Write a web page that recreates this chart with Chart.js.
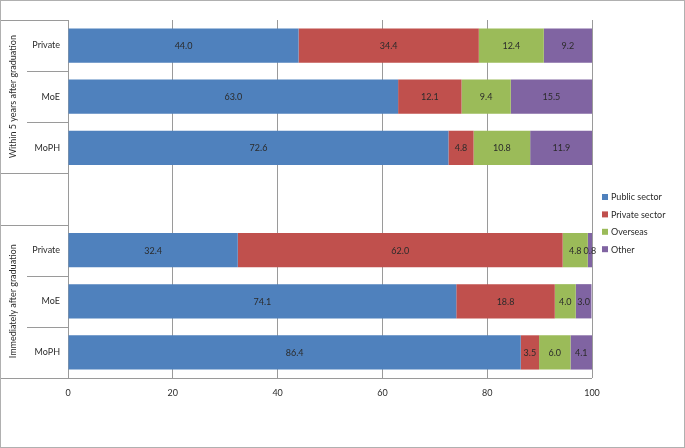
<!DOCTYPE html>
<html>
<head>
<meta charset="utf-8">
<script src="https://cdn.jsdelivr.net/npm/chart.js@4.4.1/dist/chart.umd.min.js"></script>
<style>
  html, body { margin: 0; padding: 0; background: #fff; }
  #wrap { width: 685px; height: 448px; position: relative; }
</style>
</head>
<body>
<div id="wrap"><canvas id="chart"></canvas></div>
<script>
// --- data -----------------------------------------------------------------
const rowLabels = ["Private", "MoE", "MoPH", "", "Private", "MoE", "MoPH"];
const groupLabels = ["Within 5 years after graduation", "Immediately after graduation"];
const groupRows = [[0, 2], [4, 6]];
const seriesNames = ["Public sector", "Private sector", "Overseas", "Other"];
const publicSector = [44.0, 63.0, 72.6, null, 32.4, 74.1, 86.4];
const privateSector = [34.4, 12.1, 4.8, null, 62.0, 18.8, 3.5];
const overseas = [12.4, 9.4, 10.8, null, 4.8, 4.0, 6.0];
const other = [9.2, 15.5, 11.9, null, 0.8, 3.0, 4.1];
const xTicks = [0, 20, 40, 60, 80, 100];

const COLORS = ["#4F81BD", "#C0504D", "#9BBB59", "#8064A2"];
const GRID = "#9a9a9a";
const INK = "#2b2b2b";
const FONT = "Lato, 'Open Sans', sans-serif";

Chart.defaults.font.family = FONT;
Chart.defaults.font.size = 9;
Chart.defaults.color = INK;

// --- plugins --------------------------------------------------------------
// value labels centred in each segment
const valueLabels = {
  id: "valueLabels",
  afterDatasetsDraw(chart) {
    const ctx = chart.ctx;
    ctx.save();
    ctx.font = `9px ${FONT}`;
    ctx.fillStyle = INK;
    ctx.textAlign = "center";
    ctx.textBaseline = "middle";
    chart.data.datasets.forEach((ds, di) => {
      chart.getDatasetMeta(di).data.forEach((bar, i) => {
        const v = ds.data[i];
        if (v == null) return;
        const p = bar.getProps(["x", "base", "y"], true);
        ctx.fillText(v.toFixed(1), (p.x + p.base) / 2, p.y + 0.5);
      });
    });
    ctx.restore();
  },
};

// multi-level category box, axis line, frame and legend
const decor = {
  id: "decor",
  beforeDraw(chart) {
    const ctx = chart.ctx;
    ctx.save();
    ctx.fillStyle = "#fff";
    ctx.fillRect(0, 0, chart.width, chart.height);
    ctx.restore();
  },
  afterDraw(chart) {
    const ctx = chart.ctx;
    const { top, bottom, left, right } = chart.chartArea;
    const band = (bottom - top) / rowLabels.length;
    const line = (x1, y1, x2, y2) => {
      ctx.beginPath();
      ctx.moveTo(x1, y1);
      ctx.lineTo(x2, y2);
      ctx.stroke();
    };
    ctx.save();
    ctx.strokeStyle = GRID;
    ctx.lineWidth = 1;

    // row boundaries in the category box
    const groupEdges = new Set();
    groupRows.forEach(([a, b]) => { groupEdges.add(a); groupEdges.add(b + 1); });
    for (let k = 0; k <= rowLabels.length; k++) {
      const y = Math.round(top + k * band) + 0.5;
      const x0 = groupEdges.has(k) ? 0 : 27;
      line(x0, y, left, y);
    }
    // x axis line from the left edge
    line(0, Math.round(bottom) + 0.5, right, Math.round(bottom) + 0.5);

    // group labels, rotated
    ctx.fillStyle = INK;
    ctx.font = `9px ${FONT}`;
    ctx.textAlign = "center";
    ctx.textBaseline = "middle";
    groupRows.forEach(([a, b], gi) => {
      const yc = top + ((a + b + 1) / 2) * band;
      ctx.save();
      ctx.translate(13, yc);
      ctx.rotate(-Math.PI / 2);
      ctx.fillText(groupLabels[gi], 0, 0);
      ctx.restore();
    });

    // legend
    const lx = 602, ly = 197, step = 17.4;
    ctx.textAlign = "left";
    seriesNames.forEach((name, i) => {
      const y = ly + i * step;
      ctx.fillStyle = COLORS[i];
      ctx.fillRect(lx, y - 3, 6, 6);
      ctx.fillStyle = INK;
      ctx.fillText(name, lx + 9, y + 0.5);
    });

    // outer frame
    ctx.strokeStyle = "#b0b0b0";
    ctx.strokeRect(0.5, 0.5, chart.width - 1, chart.height - 1);
    ctx.restore();
  },
};

// --- chart ----------------------------------------------------------------
const seriesData = [publicSector, privateSector, overseas, other];

new Chart(document.getElementById("chart"), {
  type: "bar",
  data: {
    labels: rowLabels,
    datasets: seriesNames.map((name, i) => ({
      label: name,
      data: seriesData[i],
      backgroundColor: COLORS[i],
      borderWidth: 0,
      categoryPercentage: 1,
      barPercentage: 0.67,
    })),
  },
  options: {
    indexAxis: "y",
    responsive: true,
    maintainAspectRatio: false,
    animation: false,
    devicePixelRatio: 1,
    layout: { padding: { top: 20, right: 93, left: 0, bottom: 0 } },
    plugins: { legend: { display: false }, tooltip: { enabled: false } },
    scales: {
      x: {
        stacked: true,
        min: 0,
        max: 100,
        afterBuildTicks: (s) => { s.ticks = xTicks.map((v) => ({ value: v })); },
        afterFit: (s) => { s.height = 70; },
        grid: { color: GRID, drawTicks: false },
        border: { display: false },
        ticks: { padding: 10, color: INK },
      },
      y: {
        stacked: true,
        afterFit: (s) => { s.width = 68; },
        grid: { display: false },
        border: { display: false },
        ticks: { padding: 0, color: INK },
      },
    },
  },
  plugins: [decor, valueLabels],
});
</script>
</body>
</html>
